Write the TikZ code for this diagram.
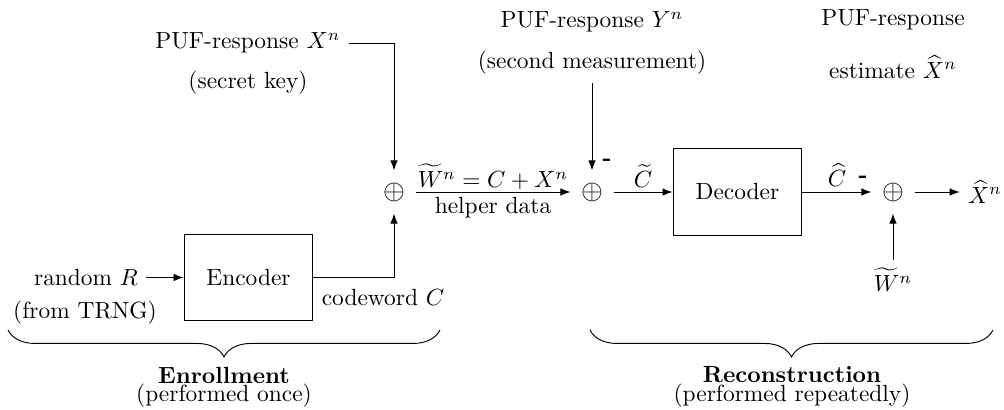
\documentclass[tikz,border=0pt]{standalone}
\usetikzlibrary{arrows.meta,decorations.pathreplacing}
\begin{document}
\begin{tikzpicture}[x=0.4274pt,y=-0.4274pt,
  arr/.style={-{Latex[length=4.3pt,width=3.2pt]}},
  blk/.style={draw,minimum width=55.1pt,minimum height=36.8pt,inner sep=0pt},
  sum/.style={circle,inner sep=0pt,minimum size=18pt,font=\fontsize{11.5}{13}\selectfont},
  brc/.style={decorate,decoration={brace,amplitude=11.5pt,mirror}}]
\useasboundingbox (0,0) rectangle (1004,410);
% nodes
\node (pufx) at (248,43) {PUF-response $X^n$};
\node (sk) at (248,83) {(secret key)};
\node[sum] (s1) at (394,192) {$\oplus$};
\node[sum] (s2) at (592,192) {$\oplus$};
\node[sum] (s3) at (893,192) {$\oplus$};
\node[blk] (enc) at (248.5,277.5) {Encoder};
\node[blk] (dec) at (737.5,192) {Decoder};
\node (rnd) at (86,277.5) {random $R$};
\node (trng) at (85,313) {(from TRNG)};
\node (cw) at (383,298) {codeword $C$};
\node (pufy) at (592,22) {PUF-response $Y^n$};
\node (sm) at (592,63) {(second measurement)};
\coordinate (ytop) at (592,83);
\node (pe) at (893,20) {PUF-response};
\node (est) at (893,67) {estimate $\widehat{X}^n$};
\node (xh) at (985,192) {$\widehat{X}^n$};
\node (wt) at (893,280) {$\widetilde{W}^n$};
\node (m1) at (607,162) {\textbf{-}};
\node (m2) at (863,179) {\textbf{-}};
\node (weq) at (493,177) {$\widetilde{W}^n = C + X^n$};
\node (hd) at (493,208) {helper data};
\node (ct) at (643,176) {$\widetilde{C}$};
\node (ch) at (837,175) {$\widehat{C}$};
\node (en) at (224,375) {\textbf{Enrollment}};
\node (en2) at (224,396) {(performed once)};
\node (re) at (792,375) {\textbf{Reconstruction}};
\node (re2) at (792,396) {(performed repeatedly)};
\coordinate (b1l) at (8,330);
\coordinate (b1r) at (440,330);
\coordinate (b2l) at (590,330);
\coordinate (b2r) at (993,330);
% connectors
\draw[arr] (pufx.east) -| (s1.north);
\draw[arr] (enc.east) -| (s1.south);
\draw[arr] (rnd.east) -- (enc.west);
\draw[arr] (s1) -- (s2);
\draw[arr] (ytop) -- (s2.north);
\draw[arr] (s2) -- (dec);
\draw[arr] (dec) -- (s3);
\draw[arr] (wt) -- (s3);
\draw[arr] (s3) -- (xh);
% braces
\draw[brc] (b1l) -- (b1r);
\draw[brc] (b2l) -- (b2r);
\end{tikzpicture}
\end{document}
